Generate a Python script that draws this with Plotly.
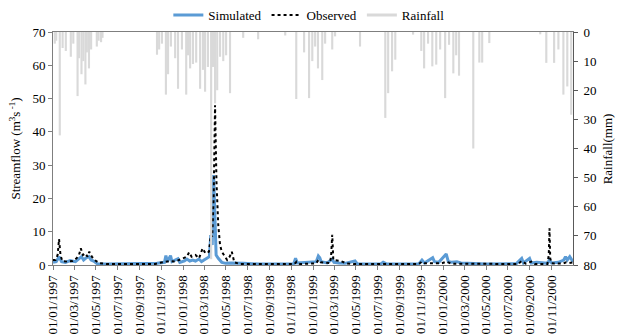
import plotly.graph_objects as go

# ---------------- data ----------------
obs_dates = [
    "1997-01-01", "1997-01-08", "1997-01-14", "1997-01-18", "1997-01-22", "1997-01-27",
    "1997-02-10", "1997-02-25", "1997-03-08", "1997-03-15", "1997-03-20", "1997-03-26",
    "1997-04-02", "1997-04-08", "1997-04-13", "1997-04-20", "1997-04-28", "1997-05-10",
    "1997-06-01", "1997-10-15", "1997-10-25", "1997-11-10", "1997-11-25", "1997-12-10",
    "1997-12-20", "1998-01-01", "1998-01-12", "1998-01-18", "1998-01-25", "1998-02-05",
    "1998-02-15", "1998-02-25", "1998-03-05", "1998-03-15", "1998-03-20", "1998-03-24",
    "1998-03-28", "1998-04-01", "1998-04-05", "1998-04-10", "1998-04-15", "1998-04-20",
    "1998-04-28", "1998-05-05", "1998-05-12", "1998-05-18", "1998-05-25", "1998-06-10",
    "1998-11-10", "1998-11-16", "1998-11-25", "1999-01-10", "1999-01-16", "1999-01-22",
    "1999-02-18", "1999-02-21", "1999-02-24", "1999-02-27", "1999-03-20", "1999-04-05",
    "1999-04-25", "1999-05-10", "1999-10-25", "1999-11-03", "1999-11-12", "1999-12-28",
    "2000-01-10", "2000-01-25", "2000-07-30", "2000-08-09", "2000-08-20", "2000-09-05",
    "2000-09-15", "2000-10-20", "2000-10-24", "2000-10-26", "2000-10-28", "2000-11-01",
    "2000-12-01", "2000-12-12", "2000-12-20", "2000-12-31",
]
obs_values = [
    1.5, 1.5, 3.0, 7.8, 3.0, 1.2,
    1.0, 1.2, 2.0, 3.0, 5.0, 3.0,
    3.5, 2.5, 4.0, 2.5, 1.5, 0.6,
    0.3, 0.3, 0.6, 1.0, 1.2, 1.0,
    1.5, 2.0, 2.5, 3.8, 2.5, 3.0,
    2.0, 5.0, 3.5, 4.0, 9.0, 8.5,
    20.0, 48.0, 25.0, 12.0, 6.0, 4.0,
    2.5, 1.5, 2.5, 4.0, 0.8, 0.3,
    0.3, 1.0, 0.3, 0.5, 1.5, 0.8,
    0.6, 3.0, 9.1, 1.5, 1.2, 0.5,
    0.3, 0.3, 0.3, 1.0, 0.5, 0.5,
    1.0, 0.4, 0.3, 1.2, 0.4, 1.0,
    0.3, 0.3, 3.0, 11.0, 2.0, 0.5,
    0.4, 0.8, 0.6, 0.8,
]

sim_dates = [
    "1997-01-01", "1997-01-10", "1997-01-18", "1997-01-25", "1997-02-05", "1997-02-18",
    "1997-03-05", "1997-03-15", "1997-03-22", "1997-03-28", "1997-04-05", "1997-04-12",
    "1997-04-18", "1997-04-25", "1997-05-05", "1997-06-01", "1997-10-20", "1997-11-10",
    "1997-11-14", "1997-11-18", "1997-11-27", "1997-12-01", "1997-12-18", "1997-12-23",
    "1998-01-05", "1998-01-12", "1998-01-20", "1998-01-28", "1998-02-05", "1998-02-15",
    "1998-02-22", "1998-03-01", "1998-03-08", "1998-03-16", "1998-03-20", "1998-03-24",
    "1998-03-28", "1998-04-01", "1998-04-04", "1998-04-10", "1998-04-15", "1998-04-20",
    "1998-05-01", "1998-05-15", "1998-06-20", "1998-07-31", "1998-11-08", "1998-11-13",
    "1998-11-18", "1998-12-20", "1999-01-10", "1999-01-16", "1999-01-20", "1999-01-24",
    "1999-02-10", "1999-02-24", "1999-03-01", "1999-03-15", "1999-04-01", "1999-04-29",
    "1999-05-05", "1999-07-10", "1999-07-17", "1999-07-25", "1999-10-25", "1999-11-03",
    "1999-11-10", "1999-12-03", "1999-12-08", "1999-12-20", "2000-01-10", "2000-01-16",
    "2000-01-25", "2000-02-09", "2000-02-20", "2000-03-10", "2000-05-01", "2000-07-25",
    "2000-08-09", "2000-08-14", "2000-08-31", "2000-09-05", "2000-09-20", "2000-10-20",
    "2000-10-26", "2000-11-01", "2000-11-20", "2000-12-05", "2000-12-10", "2000-12-15",
    "2000-12-22", "2000-12-31",
]
sim_values = [
    0.8, 1.0, 2.5, 1.0, 0.8, 1.3,
    1.0, 2.0, 2.5, 1.5, 2.2, 2.5,
    1.5, 1.2, 0.4, 0.3, 0.5, 0.8,
    2.8, 1.0, 2.8, 1.0, 1.9, 0.8,
    1.2, 1.8, 1.2, 1.5, 1.2, 1.8,
    1.0, 1.5, 2.0, 2.5, 9.0, 6.0,
    27.0, 10.0, 3.0, 2.0, 1.5, 0.8,
    0.5, 0.6, 0.5, 0.3, 0.4, 2.0,
    0.6, 0.8, 1.0, 2.7, 2.2, 1.0,
    0.6, 1.8, 0.8, 0.6, 0.5, 1.2,
    0.4, 0.3, 0.8, 0.4, 0.3, 1.5,
    0.6, 2.2, 1.0, 0.8, 3.3, 1.0,
    0.8, 1.0, 0.6, 0.5, 0.3, 0.4,
    2.0, 0.6, 2.0, 0.6, 0.8, 0.5,
    1.5, 0.6, 0.8, 1.5, 2.5, 1.5,
    2.5, 1.0,
]

rain_dates = [
    "1997-01-06", "1997-01-10", "1997-01-20", "1997-01-28", "1997-02-06", "1997-02-20",
    "1997-02-27", "1997-03-11", "1997-03-15", "1997-03-22", "1997-03-27", "1997-04-02",
    "1997-04-06", "1997-04-12", "1997-04-18", "1997-05-04", "1997-05-09", "1997-05-16",
    "1997-05-20", "1997-10-20", "1997-10-26", "1997-11-03", "1997-11-14", "1997-11-20",
    "1997-11-28", "1997-12-10", "1997-12-18", "1997-12-29", "1998-01-10", "1998-01-15",
    "1998-01-21", "1998-01-29", "1998-02-07", "1998-02-18", "1998-02-26", "1998-03-04",
    "1998-03-12", "1998-03-21", "1998-03-26", "1998-04-01", "1998-04-07", "1998-04-15",
    "1998-04-24", "1998-05-02", "1998-05-13", "1998-06-19", "1998-07-31", "1998-10-15",
    "1998-11-15", "1998-12-07", "1998-12-21", "1998-12-30", "1999-01-07", "1999-01-15",
    "1999-01-27", "1999-02-04", "1999-02-24", "1999-03-04", "1999-05-13", "1999-07-23",
    "1999-07-31", "1999-08-11", "1999-08-20", "1999-10-09", "1999-11-01", "1999-11-09",
    "1999-11-20", "1999-12-02", "1999-12-13", "1999-12-24", "2000-01-07", "2000-01-18",
    "2000-01-30", "2000-02-07", "2000-02-15", "2000-03-26", "2000-04-12", "2000-04-20",
    "2000-05-10", "2000-09-30", "2000-10-17", "2000-11-08", "2000-11-20", "2000-12-04",
    "2000-12-15", "2000-12-26",
]
rain_values = [
    4.0, 3.0, 35.5, 5.5, 6.5, 8.5,
    4.0, 22.0, 9.0, 14.5, 10.0, 18.0,
    7.0, 12.5, 6.0, 5.0, 3.0, 3.5,
    2.0, 7.8, 6.0, 4.0, 21.5, 14.5,
    5.0, 9.0, 19.5, 6.0, 21.5, 8.0,
    12.5, 11.0, 10.5, 19.5, 13.0, 20.5,
    12.0, 78.0, 12.0, 24.5, 20.0, 8.5,
    10.0, 8.0, 21.0, 2.0, 2.5, 1.2,
    23.0, 7.0, 22.7, 10.0, 5.0, 12.5,
    16.5, 4.0, 6.0, 1.5, 5.0, 29.5,
    21.0, 13.5, 9.5, 0.9, 6.5, 12.5,
    4.0, 11.8, 11.2, 6.0, 22.7, 4.4,
    14.2, 8.0, 15.0, 40.0, 10.5, 10.5,
    3.8, 0.8, 10.6, 10.6, 6.0, 21.5,
    18.7, 28.4,
]

y_ticks = [0, 10, 20, 30, 40, 50, 60, 70]
y2_ticks = [0, 10, 20, 30, 40, 50, 60, 70, 80]

FONT = "Liberation Serif"
DAY_MS = 86400000

fig = go.Figure()

fig.add_trace(go.Scatter(
    x=sim_dates, y=sim_values, name="Simulated", mode="lines",
    line=dict(color="#5B9BD5", width=3), yaxis="y",
))
fig.add_trace(go.Scatter(
    x=obs_dates, y=obs_values, name="Observed", mode="lines",
    line=dict(color="#000000", width=2, dash="dot"), yaxis="y",
))
fig.add_trace(go.Bar(
    x=rain_dates, y=rain_values, name="Rainfall", showlegend=False,
    marker=dict(color="#D9D9D9", line=dict(width=0)),
    width=[6 * DAY_MS] * len(rain_dates), yaxis="y2",
))
# legend entry for rainfall drawn as a grey line (as in the original)
fig.add_trace(go.Scatter(
    x=[None], y=[None], name="Rainfall", mode="lines",
    line=dict(color="#D9D9D9", width=3), yaxis="y2",
))

fig.update_layout(
    width=619, height=334,
    margin=dict(l=53, r=46, t=32, b=69),
    paper_bgcolor="white", plot_bgcolor="white",
    font=dict(family=FONT, size=13, color="#000000"),
    showlegend=True,
    legend=dict(orientation="h", x=0.492, xanchor="center", y=1.0, yanchor="top",
                yref="container", font=dict(family=FONT, size=13), itemwidth=30,
                bgcolor="rgba(0,0,0,0)"),
    xaxis=dict(
        type="date", range=["1997-01-01", "2000-12-31"],
        tick0="1997-01-01", dtick="M2", tickformat="%d/%m/%Y",
        tickangle=-90, ticks="outside", ticklen=4, tickcolor="#7f7f7f",
        showline=True, linecolor="#7f7f7f", linewidth=1, mirror=True,
        showgrid=False, zeroline=False, automargin=False,
        tickfont=dict(family=FONT, size=13),
    ),
    yaxis=dict(
        range=[0, 70], tickvals=y_ticks, ticks="outside", ticklen=4,
        tickcolor="#7f7f7f", showline=True, linecolor="#7f7f7f", linewidth=1,
        showgrid=False, zeroline=False, automargin=False,
        title=dict(text="Streamflow (m<sup>3</sup>s<sup> -1</sup>)", standoff=8,
                   font=dict(family=FONT, size=13)),
        tickfont=dict(family=FONT, size=13),
    ),
    yaxis2=dict(
        overlaying="y", side="right", range=[80, 0], tickvals=y2_ticks,
        ticks="outside", ticklen=4, tickcolor="#595959", ticklabelstandoff=3,
        showline=True, linecolor="#595959", linewidth=1,
        showgrid=False, zeroline=False, automargin=False,
        tickfont=dict(family=FONT, size=13),
    ),
    annotations=[dict(
        text="Rainfall(mm)", xref="paper", yref="paper", x=1.067, y=0.5,
        xanchor="center", yanchor="middle", textangle=-90,
        showarrow=False, font=dict(family=FONT, size=13, color="#000000"),
    )],
)

fig.write_html(
    "out.html",
    config={"displayModeBar": False},
    post_script="document.body.style.margin='0';document.body.style.overflow='hidden';",
)
